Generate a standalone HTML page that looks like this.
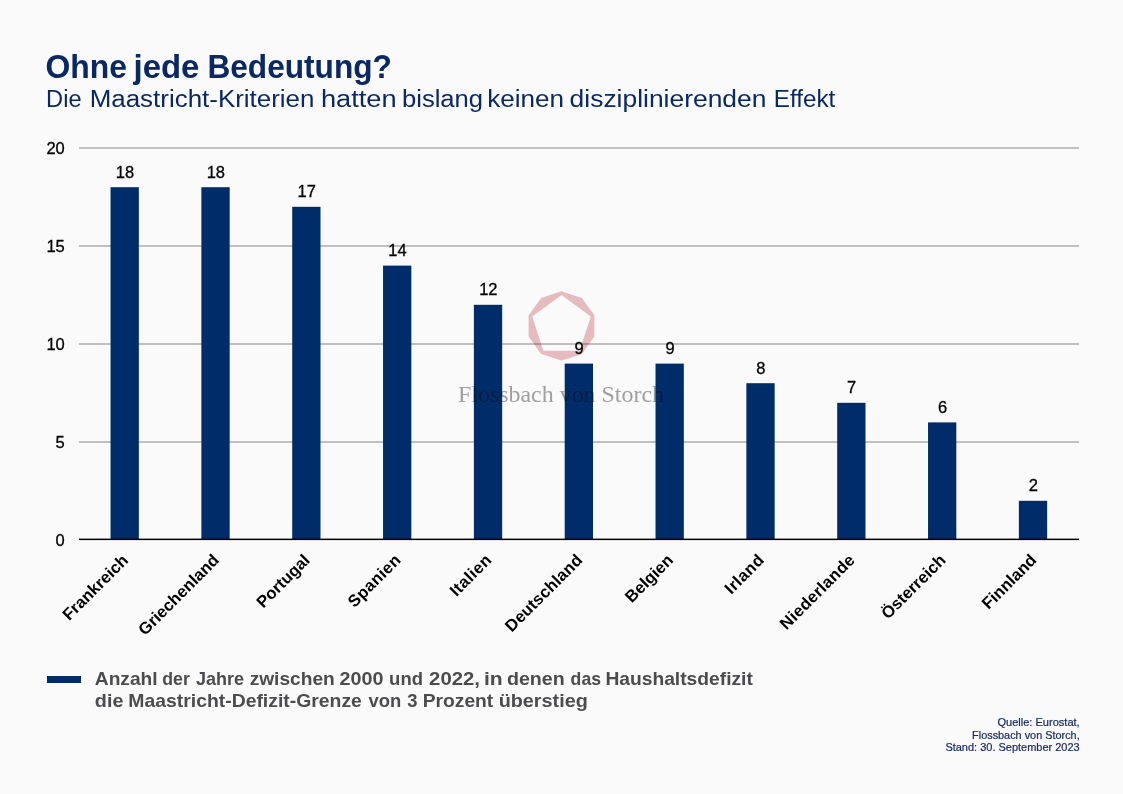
<!DOCTYPE html>
<html lang="de"><head><meta charset="utf-8"><title>Ohne jede Bedeutung?</title>
<style>
html,body{margin:0;padding:0;background:#fafafa;}
body{width:1123px;height:794px;overflow:hidden;font-family:"Liberation Sans",sans-serif;}
svg{display:block;position:absolute;left:0;top:0}
text{font-family:"Liberation Sans",sans-serif;}
.title{font-weight:bold;font-size:32.5px;fill:#0a2864}
.sub{font-size:23.3px;fill:#0a2864}
.ax{font-size:16.5px;fill:#000;stroke:#000;stroke-width:0.3px}
.val{font-size:16.5px;fill:#000;stroke:#000;stroke-width:0.3px}
.cat{font-size:16.6px;font-weight:bold;fill:#000}
.leg{font-size:18.2px;font-weight:bold;fill:#4c4c4e}
.src{font-size:11px;fill:#17286a;stroke:#17286a;stroke-width:0.2px}
.wm{font-family:"Liberation Serif",serif;font-size:23px;fill:#a3a3a3}
</style></head><body>
<svg width="1123" height="794" viewBox="0 0 1123 794">
<rect width="1123" height="794" fill="#fafafa"/>
<text class="title" y="77.8"><tspan x="45.51" textLength="81.48" lengthAdjust="spacingAndGlyphs">Ohne</tspan> <tspan x="133.53" textLength="65.89" lengthAdjust="spacingAndGlyphs">jede</tspan> <tspan x="207.39" textLength="184.57" lengthAdjust="spacingAndGlyphs">Bedeutung?</tspan></text>
<text class="sub" y="107.3"><tspan x="46.11" textLength="35.44" lengthAdjust="spacingAndGlyphs">Die</tspan> <tspan x="89.68" textLength="224.80" lengthAdjust="spacingAndGlyphs">Maastricht-Kriterien</tspan> <tspan x="320.95" textLength="75.71" lengthAdjust="spacingAndGlyphs">hatten</tspan> <tspan x="401.96" textLength="81.12" lengthAdjust="spacingAndGlyphs">bislang</tspan> <tspan x="487.18" textLength="76.87" lengthAdjust="spacingAndGlyphs">keinen</tspan> <tspan x="569.63" textLength="196.79" lengthAdjust="spacingAndGlyphs">disziplinierenden</tspan> <tspan x="773.79" textLength="61.51" lengthAdjust="spacingAndGlyphs">Effekt</tspan></text>
<rect x="79" y="441.10" width="1000" height="1.8" fill="#b9b9b9"/>
<rect x="79" y="343.10" width="1000" height="1.8" fill="#b9b9b9"/>
<rect x="79" y="245.10" width="1000" height="1.8" fill="#b9b9b9"/>
<rect x="79" y="147.10" width="1000" height="1.8" fill="#b9b9b9"/>
<text class="ax" x="64.8" y="545.50" text-anchor="end">0</text>
<text class="ax" x="64.8" y="447.50" text-anchor="end">5</text>
<text class="ax" x="64.8" y="349.50" text-anchor="end">10</text>
<text class="ax" x="64.8" y="251.50" text-anchor="end">15</text>
<text class="ax" x="64.8" y="153.50" text-anchor="end">20</text>
<rect x="110.55" y="187.20" width="28.3" height="352.30" fill="#002d6a"/>
<rect x="201.38" y="187.20" width="28.3" height="352.30" fill="#002d6a"/>
<rect x="292.21" y="206.80" width="28.3" height="332.70" fill="#002d6a"/>
<rect x="383.04" y="265.60" width="28.3" height="273.90" fill="#002d6a"/>
<rect x="473.87" y="304.80" width="28.3" height="234.70" fill="#002d6a"/>
<rect x="564.70" y="363.60" width="28.3" height="175.90" fill="#002d6a"/>
<rect x="655.53" y="363.60" width="28.3" height="175.90" fill="#002d6a"/>
<rect x="746.36" y="383.20" width="28.3" height="156.30" fill="#002d6a"/>
<rect x="837.19" y="402.80" width="28.3" height="136.70" fill="#002d6a"/>
<rect x="928.02" y="422.40" width="28.3" height="117.10" fill="#002d6a"/>
<rect x="1018.85" y="500.80" width="28.3" height="38.70" fill="#002d6a"/>
<rect x="79" y="538.6" width="1000" height="1.5" fill="#000"/>
<text class="val" x="125.00" y="177.60" text-anchor="middle">18</text>
<text class="val" x="215.83" y="177.60" text-anchor="middle">18</text>
<text class="val" x="306.66" y="197.20" text-anchor="middle">17</text>
<text class="val" x="397.49" y="256.00" text-anchor="middle">14</text>
<text class="val" x="488.32" y="295.20" text-anchor="middle">12</text>
<text class="val" x="579.15" y="354.00" text-anchor="middle">9</text>
<text class="val" x="669.98" y="354.00" text-anchor="middle">9</text>
<text class="val" x="760.81" y="373.60" text-anchor="middle">8</text>
<text class="val" x="851.64" y="393.20" text-anchor="middle">7</text>
<text class="val" x="942.47" y="412.80" text-anchor="middle">6</text>
<text class="val" x="1033.30" y="491.20" text-anchor="middle">2</text>
<text class="cat" transform="translate(129.20,561.2) rotate(-45)" text-anchor="end">Frankreich</text>
<text class="cat" transform="translate(220.03,561.2) rotate(-45)" text-anchor="end">Griechenland</text>
<text class="cat" transform="translate(310.86,561.2) rotate(-45)" text-anchor="end">Portugal</text>
<text class="cat" transform="translate(401.69,561.2) rotate(-45)" text-anchor="end" textLength="66.6" lengthAdjust="spacing">Spanien</text>
<text class="cat" transform="translate(492.52,561.2) rotate(-45)" text-anchor="end" textLength="51.0" lengthAdjust="spacing">Italien</text>
<text class="cat" transform="translate(583.35,561.2) rotate(-45)" text-anchor="end" textLength="101.1" lengthAdjust="spacing">Deutschland</text>
<text class="cat" transform="translate(674.18,561.2) rotate(-45)" text-anchor="end">Belgien</text>
<text class="cat" transform="translate(765.01,561.2) rotate(-45)" text-anchor="end" textLength="47.7" lengthAdjust="spacing">Irland</text>
<text class="cat" transform="translate(855.84,561.2) rotate(-45)" text-anchor="end" textLength="98.0" lengthAdjust="spacing">Niederlande</text>
<text class="cat" transform="translate(946.67,561.2) rotate(-45)" text-anchor="end">Österreich</text>
<text class="cat" transform="translate(1037.50,561.2) rotate(-45)" text-anchor="end">Finnland</text>
<g style="mix-blend-mode:multiply">
<path d="M561.50,291.30 L541.16,297.91 L528.59,315.21 L528.59,336.59 L541.16,353.89 L561.50,360.50 L581.84,353.89 L594.41,336.59 L594.41,315.21 L581.84,297.91 Z M561.50,295.10 L532.21,316.38 L543.40,350.82 L579.60,350.82 L590.79,316.38 Z" fill="#eabfc4" fill-rule="evenodd"/>
<text class="wm" x="458" y="402.2" textLength="206" lengthAdjust="spacingAndGlyphs">Flossbach von Storch</text>
</g>
<rect x="47" y="676" width="34" height="7" fill="#002d6a"/>
<text class="leg" y="685"><tspan x="94.84" textLength="62.81" lengthAdjust="spacingAndGlyphs">Anzahl</tspan> <tspan x="162.25" textLength="27.60" lengthAdjust="spacingAndGlyphs">der</tspan> <tspan x="195.98" textLength="48.05" lengthAdjust="spacingAndGlyphs">Jahre</tspan> <tspan x="249.65" textLength="85.09" lengthAdjust="spacingAndGlyphs">zwischen</tspan> <tspan x="339.54" textLength="43.92" lengthAdjust="spacingAndGlyphs">2000</tspan> <tspan x="389.11" textLength="33.82" lengthAdjust="spacingAndGlyphs">und</tspan> <tspan x="429.14" textLength="50.85" lengthAdjust="spacingAndGlyphs">2022,</tspan> <tspan x="483.97" textLength="18.71" lengthAdjust="spacingAndGlyphs">in</tspan> <tspan x="506.98" textLength="57.77" lengthAdjust="spacingAndGlyphs">denen</tspan> <tspan x="570.62" textLength="30.40" lengthAdjust="spacingAndGlyphs">das</tspan> <tspan x="605.42" textLength="147.47" lengthAdjust="spacingAndGlyphs">Haushaltsdefizit</tspan></text>
<text class="leg" y="707.1"><tspan x="94.86" textLength="28.51" lengthAdjust="spacingAndGlyphs">die</tspan> <tspan x="128.33" textLength="233.58" lengthAdjust="spacingAndGlyphs">Maastricht-Defizit-Grenze</tspan> <tspan x="368.50" textLength="32.79" lengthAdjust="spacingAndGlyphs">von</tspan> <tspan x="407.34" textLength="10.22" lengthAdjust="spacingAndGlyphs">3</tspan> <tspan x="422.67" textLength="70.64" lengthAdjust="spacingAndGlyphs">Prozent</tspan> <tspan x="498.67" textLength="89.16" lengthAdjust="spacingAndGlyphs">überstieg</tspan></text>
<text class="src" x="1079.7" y="726" text-anchor="end" textLength="82.3" lengthAdjust="spacingAndGlyphs">Quelle: Eurostat,</text>
<text class="src" x="1079.7" y="738.5" text-anchor="end" textLength="107.6" lengthAdjust="spacingAndGlyphs">Flossbach von Storch,</text>
<text class="src" x="1079.7" y="751.4" text-anchor="end" textLength="134.3" lengthAdjust="spacingAndGlyphs">Stand: 30. September 2023</text>
</svg></body></html>
